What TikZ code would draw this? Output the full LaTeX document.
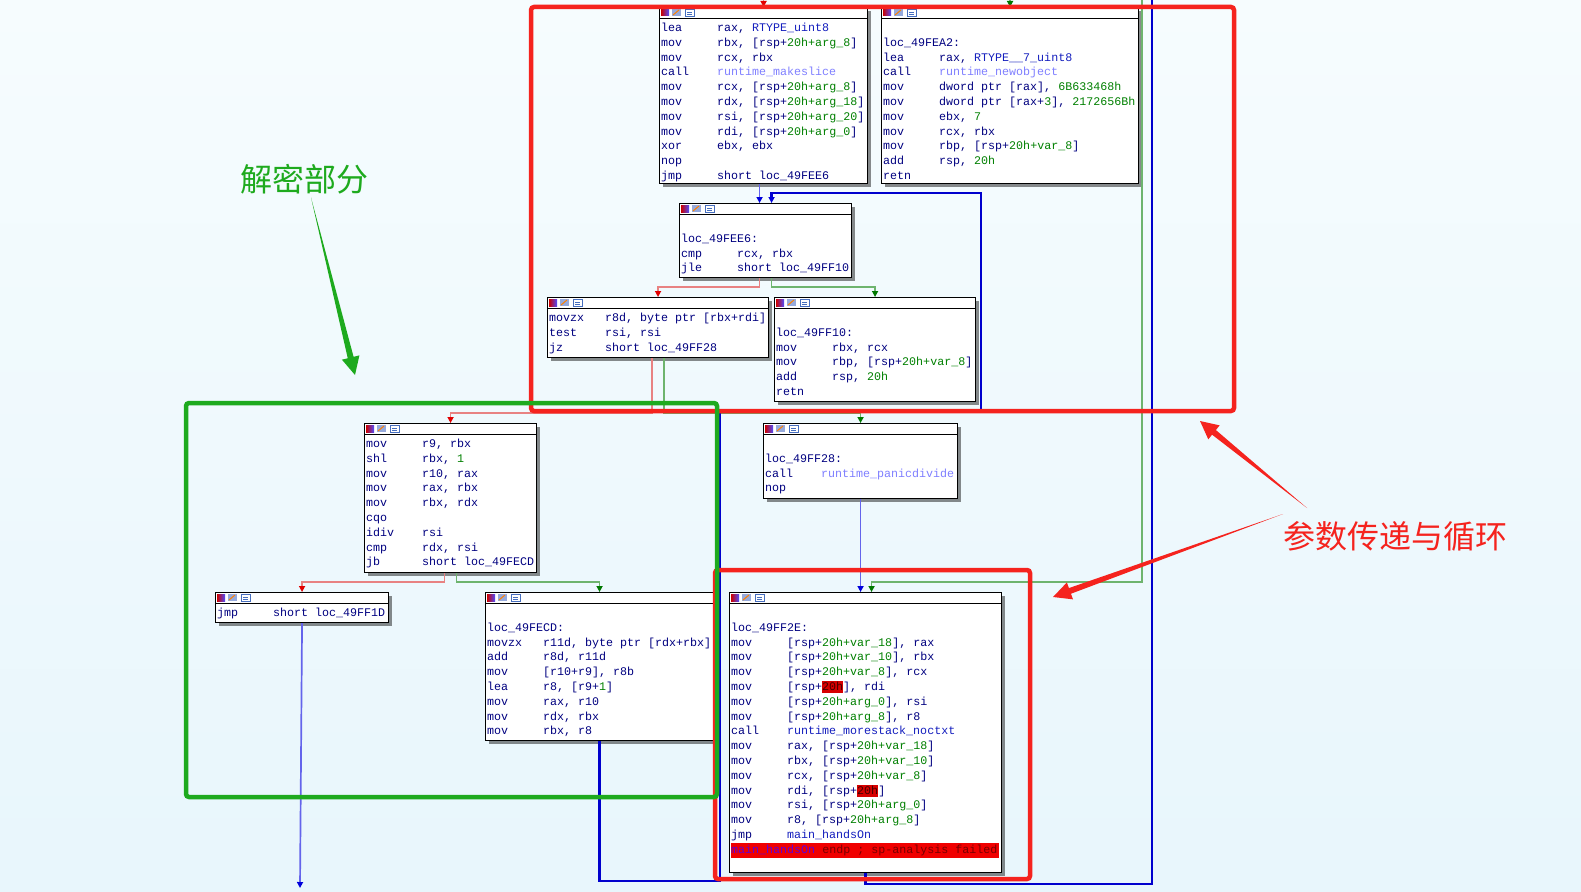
\documentclass[tikz,border=0pt]{standalone}
\usepackage{fontspec}
\usepackage{tikz}
\usetikzlibrary{arrows.meta, calc, shadows}
\newfontfamily\codefam{Liberation Mono}
\newfontfamily\cjk{Noto Sans CJK SC}
\newcommand{\codefont}{\codefam\fontsize{11.67pt}{14.8pt}\selectfont}

\definecolor{idanavy}{RGB}{0,0,128}
\definecolor{idagreen}{RGB}{0,128,0}
\definecolor{idaname}{RGB}{20,30,190}
\definecolor{idalib}{RGB}{128,128,255}
\definecolor{hlred}{RGB}{215,0,0}
\definecolor{hltext}{RGB}{70,0,0}
\definecolor{barred}{RGB}{240,0,0}
\definecolor{barname}{RGB}{100,0,210}
\definecolor{bartext}{RGB}{120,0,0}
\definecolor{edgered}{RGB}{232,130,130}
\definecolor{tipred}{RGB}{225,0,0}
\definecolor{edgegreen}{RGB}{110,180,110}
\definecolor{tipgreen}{RGB}{0,120,0}
\definecolor{edgeblue}{RGB}{100,100,235}
\definecolor{tipblue}{RGB}{0,0,220}
\definecolor{backblue}{RGB}{0,0,205}
\definecolor{annored}{RGB}{245,35,30}
\definecolor{annogreen}{RGB}{30,170,30}
\definecolor{bgtop}{RGB}{246,252,254}
\definecolor{bgbot}{RGB}{232,246,252}
\definecolor{iconblue}{RGB}{150,170,220}
\definecolor{iconframe}{RGB}{70,110,190}

% one line of code: mnemonic column + operands
\newlength{\opw}\setlength{\opw}{56pt}
\newcommand{\ins}[2]{\strut\makebox[\opw][l]{#1}#2}
\newcommand{\gn}[1]{\textcolor{idagreen}{#1}}
\newcommand{\nm}[1]{\textcolor{idaname}{#1}}
\newcommand{\lb}[1]{\textcolor{idalib}{#1}}
\newcommand{\hl}[1]{{\setlength{\fboxsep}{0pt}\colorbox{hlred}{\rule[-2.5pt]{0pt}{12pt}\textcolor{hltext}{#1}}}}
\newcommand{\hlbar}[1]{{\setlength{\fboxsep}{0pt}\colorbox{barred}{\makebox[268pt][l]{\strut #1}}}}

% title strip of a block, with its three icons
\newcommand{\blockhead}[1]{%
  \draw[black, line width=0.8pt] ([yshift=-11pt]#1.north west) -- ([yshift=-11pt]#1.north east);
  \shade[left color=red!80!black, middle color=green!70!black, right color=blue!70] ([shift={(2,2)}]#1.north west) rectangle ++(8,7);
  \fill[iconblue] ([shift={(13,2)}]#1.north west) rectangle ++(9,7);
  \draw[orange, line width=1pt] ([shift={(14,8)}]#1.north west) -- ++(6,-5);
  \draw[iconframe, fill=white] ([shift={(26,2.5)}]#1.north west) rectangle ++(9,6.5);
  \draw[iconframe] ([shift={(28,5)}]#1.north west) -- ++(5,0) ([shift={(28,7)}]#1.north west) -- ++(5,0);
}

% tapered annotation arrow: start, tip, colour
\newcommand{\taper}[3]{%
  \coordinate (tb) at ($(#2)!18pt!(#1)$);
  \fill[#3] (#1) -- ($(tb)!3pt!90:(#2)$) -- ($(tb)!9pt!90:(#2)$) -- (#2) -- ($(tb)!9pt!-90:(#2)$) -- ($(tb)!3pt!-90:(#2)$) -- cycle;
}

\begin{document}
\begin{tikzpicture}[x=1pt, y=-1pt,
    block/.style={draw=black, line width=1.1pt, fill=white, anchor=north west, inner sep=0pt,
      drop shadow={shadow xshift=3pt, shadow yshift=-3pt, opacity=.45, fill=black}},
    code/.style={anchor=north west, inner sep=0pt, align=left, font=\codefont, text=idanavy},
    redge/.style={draw=edgered, line width=1.7pt, -{Triangle[length=6pt, width=6pt, color=tipred]}},
    gedge/.style={draw=edgegreen, line width=1.7pt, -{Triangle[length=6pt, width=6pt, color=tipgreen]}},
    bedge/.style={draw=edgeblue, line width=1.7pt, -{Triangle[length=6pt, width=6pt, color=tipblue]}},
    backedge/.style={draw=backblue, line width=2.2pt, -{Triangle[length=6pt, width=6pt, color=tipblue]}},
    mark box/.style={line width=4.5pt, rounded corners=3pt}]

    \useasboundingbox (0,0) rectangle (1581,891);
    \shade[top color=bgtop, bottom color=bgbot] (0,0) rectangle (1581,891);

    % Blocchi
    \node[block, minimum width=208pt, minimum height=176pt] (A) at (659,7) {};
    \node[block, minimum width=257pt, minimum height=176pt] (B) at (881,7) {};
    \node[block, minimum width=172pt, minimum height=74pt] (C) at (679,203) {};
    \node[block, minimum width=221pt, minimum height=60pt] (D) at (547,297) {};
    \node[block, minimum width=201pt, minimum height=104pt] (E) at (774,297) {};
    \node[block, minimum width=172pt, minimum height=149pt] (F) at (364,423) {};
    \node[block, minimum width=194pt, minimum height=75pt] (G) at (763,423) {};
    \node[block, minimum width=173pt, minimum height=30pt] (H) at (215,592) {};
    \node[block, minimum width=228pt, minimum height=148pt] (I) at (485,592) {};
    \node[block, minimum width=272pt, minimum height=280pt] (J) at (729,592) {};
    \foreach \b in {A,B,C,D,E,F,G,H,I,J} {\blockhead{\b}}

    % Codice
    \node[code] (Acode) at ([shift={(2,14)}]A.north west) {%
      \ins{lea}{rax, \nm{RTYPE\_uint8}}\\
      \ins{mov}{rbx, [rsp+\gn{20h+arg\_8}]}\\
      \ins{mov}{rcx, rbx}\\
      \ins{call}{\lb{runtime\_makeslice}}\\
      \ins{mov}{rcx, [rsp+\gn{20h+arg\_8}]}\\
      \ins{mov}{rdx, [rsp+\gn{20h+arg\_18}]}\\
      \ins{mov}{rsi, [rsp+\gn{20h+arg\_20}]}\\
      \ins{mov}{rdi, [rsp+\gn{20h+arg\_0}]}\\
      \ins{xor}{ebx, ebx}\\
      \ins{nop}{}\\
      \ins{jmp}{short loc\_49FEE6}};
    \node[code] (Bcode) at ([shift={(2,14)}]B.north west) {%
      \ins{}{}\\
      \ins{loc\_49FEA2:}{}\\
      \ins{lea}{rax, \nm{RTYPE\_\_7\_uint8}}\\
      \ins{call}{\lb{runtime\_newobject}}\\
      \ins{mov}{dword ptr [rax], \gn{6B633468h}}\\
      \ins{mov}{dword ptr [rax+\gn{3}], \gn{2172656Bh}}\\
      \ins{mov}{ebx, \gn{7}}\\
      \ins{mov}{rcx, rbx}\\
      \ins{mov}{rbp, [rsp+\gn{20h+var\_8}]}\\
      \ins{add}{rsp, \gn{20h}}\\
      \ins{retn}{}};
    \node[code] (Ccode) at ([shift={(2,14)}]C.north west) {%
      \ins{}{}\\
      \ins{loc\_49FEE6:}{}\\
      \ins{cmp}{rcx, rbx}\\
      \ins{jle}{short loc\_49FF10}};
    \node[code] (Dcode) at ([shift={(2,14)}]D.north west) {%
      \ins{movzx}{r8d, byte ptr [rbx+rdi]}\\
      \ins{test}{rsi, rsi}\\
      \ins{jz}{short loc\_49FF28}};
    \node[code] (Ecode) at ([shift={(2,14)}]E.north west) {%
      \ins{}{}\\
      \ins{loc\_49FF10:}{}\\
      \ins{mov}{rbx, rcx}\\
      \ins{mov}{rbp, [rsp+\gn{20h+var\_8}]}\\
      \ins{add}{rsp, \gn{20h}}\\
      \ins{retn}{}};
    \node[code] (Fcode) at ([shift={(2,14)}]F.north west) {%
      \ins{mov}{r9, rbx}\\
      \ins{shl}{rbx, \gn{1}}\\
      \ins{mov}{r10, rax}\\
      \ins{mov}{rax, rbx}\\
      \ins{mov}{rbx, rdx}\\
      \ins{cqo}{}\\
      \ins{idiv}{rsi}\\
      \ins{cmp}{rdx, rsi}\\
      \ins{jb}{short loc\_49FECD}};
    \node[code] (Gcode) at ([shift={(2,14)}]G.north west) {%
      \ins{}{}\\
      \ins{loc\_49FF28:}{}\\
      \ins{call}{\lb{runtime\_panicdivide}}\\
      \ins{nop}{}};
    \node[code] (Hcode) at ([shift={(2,14)}]H.north west) {%
      \ins{jmp}{short loc\_49FF1D}};
    \node[code] (Icode) at ([shift={(2,14)}]I.north west) {%
      \ins{}{}\\
      \ins{loc\_49FECD:}{}\\
      \ins{movzx}{r11d, byte ptr [rdx+rbx]}\\
      \ins{add}{r8d, r11d}\\
      \ins{mov}{[r10+r9], r8b}\\
      \ins{lea}{r8, [r9+\gn{1}]}\\
      \ins{mov}{rax, r10}\\
      \ins{mov}{rdx, rbx}\\
      \ins{mov}{rbx, r8}};
    \node[code] (Jcode) at ([shift={(2,14)}]J.north west) {%
      \ins{}{}\\
      \ins{loc\_49FF2E:}{}\\
      \ins{mov}{[rsp+\gn{20h+var\_18}], rax}\\
      \ins{mov}{[rsp+\gn{20h+var\_10}], rbx}\\
      \ins{mov}{[rsp+\gn{20h+var\_8}], rcx}\\
      \ins{mov}{[rsp+\hl{20h}], rdi}\\
      \ins{mov}{[rsp+\gn{20h+arg\_0}], rsi}\\
      \ins{mov}{[rsp+\gn{20h+arg\_8}], r8}\\
      \ins{call}{\nm{runtime\_morestack\_noctxt}}\\
      \ins{mov}{rax, [rsp+\gn{20h+var\_18}]}\\
      \ins{mov}{rbx, [rsp+\gn{20h+var\_10}]}\\
      \ins{mov}{rcx, [rsp+\gn{20h+var\_8}]}\\
      \ins{mov}{rdi, [rsp+\hl{20h}]}\\
      \ins{mov}{rsi, [rsp+\gn{20h+arg\_0}]}\\
      \ins{mov}{r8, [rsp+\gn{20h+arg\_8}]}\\
      \ins{jmp}{\nm{main\_handsOn}}\\
      \hlbar{\textcolor{barname}{main\_handsOn} \textcolor{bartext}{endp ; sp-analysis failed}}};

    % Frecce
    \coordinate (loopL) at (720,881);
    \coordinate (loopR) at (981,412);
    \coordinate (gtop) at (1142,0);
    \coordinate (btop) at (1152,0);
    \coordinate (bbot) at (1152,884);
    \coordinate (hout) at (300,888);

    \draw[redge] (A.north |- 0,0) -- (A.north);
    \draw[gedge] (B.north |- 0,0) -- (B.north);
    \draw[bedge] ([xshift=-6pt]C.north |- A.south) -- ([xshift=-6pt]C.north);
    \draw[redge] ([xshift=-6pt]C.south) |- ([yshift=10pt]D.north) -- (D.north);
    \draw[gedge] ([xshift=6pt]C.south) |- ([yshift=10pt]E.north) -- (E.north);
    \draw[redge] ([xshift=-6pt]D.south) |- ([yshift=10pt]F.north) -- (F.north);
    \draw[gedge] ([xshift=6pt]D.south) |- ([yshift=10pt]G.north) -- (G.north);
    \draw[redge] ([xshift=-6pt]F.south) |- ([yshift=10pt]H.north) -- (H.north);
    \draw[gedge] ([xshift=6pt]F.south) |- ([yshift=10pt]I.north) -- (I.north);
    \draw[bedge] (G.south) -- (G.south |- J.north);
    \draw[gedge] (gtop) |- ([shift={(6pt,10pt)}]J.north) -- ([xshift=6pt]J.north);
    \draw[bedge] (H.south) -- (hout);
    \draw[backedge] (I.south) |- (loopL) |- (loopR) |- ([shift={(6pt,10pt)}]C.north) -- ([xshift=6pt]C.north);
    \draw[backedge, -] (J.south) |- (bbot) -- (btop);

    % Riquadri
    \draw[annored, mark box] (531,7) rectangle (1234,411);
    \draw[annored, mark box] (715,570) rectangle (1030,879);
    \draw[annogreen, mark box] (186,403) rectangle (717,797);

    % Etichette
    \node[font=\cjk\fontsize{32pt}{38pt}\selectfont, text=annogreen] (jiemi) at (304,179) {解密部分};
    \node[font=\cjk\fontsize{32pt}{38pt}\selectfont, text=annored] (canshu) at (1395,536) {参数传递与循环};

    \coordinate (js) at ([xshift=7pt]jiemi.south);
    \coordinate (jt) at (355,375);
    \coordinate (cs1) at (1307,508);
    \coordinate (ct1) at (1200,421);
    \coordinate (cs2) at (1283,514);
    \coordinate (ct2) at (1053,597);
    \taper{js}{jt}{annogreen}
    \taper{cs1}{ct1}{annored}
    \taper{cs2}{ct2}{annored}
\end{tikzpicture}
\end{document}
